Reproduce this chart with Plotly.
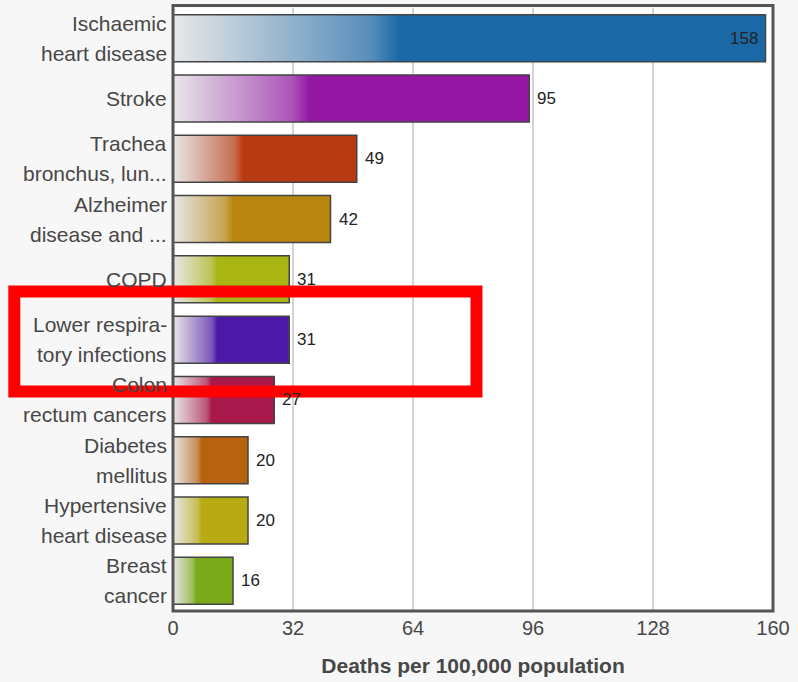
import plotly.graph_objects as go

# ---- data ----
line1 = ["Ischaemic", "Stroke", "Trachea", "Alzheimer", "COPD",
         "Lower respira-", "Colon", "Diabetes", "Hypertensive", "Breast"]
line2 = ["heart disease", "", "bronchus, lun...", "disease and ...", "",
         "tory infections", "rectum cancers", "mellitus", "heart disease", "cancer"]
values = [158, 95, 49, 42, 31, 31, 27, 20, 20, 16]
colors = ["#1b68a6", "#9317a3", "#b83a10", "#b8860e", "#a8b512",
          "#4c18a8", "#a8184a", "#b86210", "#b8aa12", "#7aaa1a"]
x_ticks = [0, 32, 64, 96, 128, 160]
x_title = "Deaths per 100,000 population"

FONT = "Liberation Sans, Arial, sans-serif"
bar_half = 0.39


def mix(hex_color, t):
    """blend light gray with the colour: t=0 -> gray, t=1 -> colour"""
    h = hex_color.lstrip("#")
    r, g, b = int(h[0:2], 16), int(h[2:4], 16), int(h[4:6], 16)
    base = (232, 232, 232)
    return "rgb(%d,%d,%d)" % tuple(round(base[k] + (c - base[k]) * t) for k, c in enumerate((r, g, b)))


fig = go.Figure()

for i, (v, c) in enumerate(zip(values, colors)):
    fig.add_trace(go.Scatter(
        x=[0, v, v, 0, 0],
        y=[i - bar_half, i - bar_half, i + bar_half, i + bar_half, i - bar_half],
        mode="lines",
        fill="toself",
        fillgradient=dict(
            type="horizontal",
            start=0,
            stop=v,
            colorscale=[[0, mix(c, 0.0)], [0.33, mix(c, 0.7)], [0.38, c], [1, c]],
        ),
        line=dict(color="#444444", width=1.5),
        hoverinfo="skip",
        showlegend=False,
    ))

# value labels
for i, v in enumerate(values):
    inside = v > 150
    fig.add_annotation(
        x=v, y=i, xref="x", yref="y", text=str(v), showarrow=False,
        xanchor="right" if inside else "left",
        xshift=-6 if inside else 6,
        font=dict(family=FONT, size=17, color="#222222"),
    )

# category labels (two lines each)
for i, (a, b) in enumerate(zip(line1, line2)):
    if b:
        for txt, ys in ((a, 15), (b, -15)):
            fig.add_annotation(
                x=0, xref="paper", y=i, yref="y", yshift=ys, xshift=-4,
                xanchor="right", text=txt, showarrow=False,
                font=dict(family=FONT, size=21, color="#474747"),
            )
    else:
        fig.add_annotation(
            x=0, xref="paper", y=i, yref="y", xshift=-4,
            xanchor="right", text=a, showarrow=False,
            font=dict(family=FONT, size=21, color="#474747"),
        )

# plot frame
fig.add_shape(type="rect", xref="paper", yref="paper", x0=0, x1=1, y0=0, y1=1.004,
              line=dict(color="#555555", width=3), layer="above")

# red highlight box
fig.add_shape(type="rect", xref="paper", yref="paper",
              x0=-0.2645, x1=0.5058, y0=0.3642, y1=0.5298,
              line=dict(color="#ff0000", width=12), layer="above")

fig.update_layout(
    width=798, height=682,
    margin=dict(l=173, r=20, t=8, b=70),
    paper_bgcolor="#f7f7f7",
    plot_bgcolor="#ffffff",
    showlegend=False,
    xaxis=dict(
        range=[0, 160], tickvals=x_ticks, ticktext=[str(t) for t in x_ticks],
        showgrid=True, gridcolor="#d4d4d4", gridwidth=1.5,
        zeroline=False, showline=False, ticks="", ticklabelstandoff=3,
        tickfont=dict(family=FONT, size=20, color="#474747"),
        title=dict(text="<b>" + x_title + "</b>", standoff=20,
                   font=dict(family=FONT, size=21, color="#474747")),
        fixedrange=True,
    ),
    yaxis=dict(
        range=[9.5, -0.5], showticklabels=False, showgrid=False,
        zeroline=False, showline=False, ticks="", fixedrange=True,
    ),
)

fig.write_html("out.html")
